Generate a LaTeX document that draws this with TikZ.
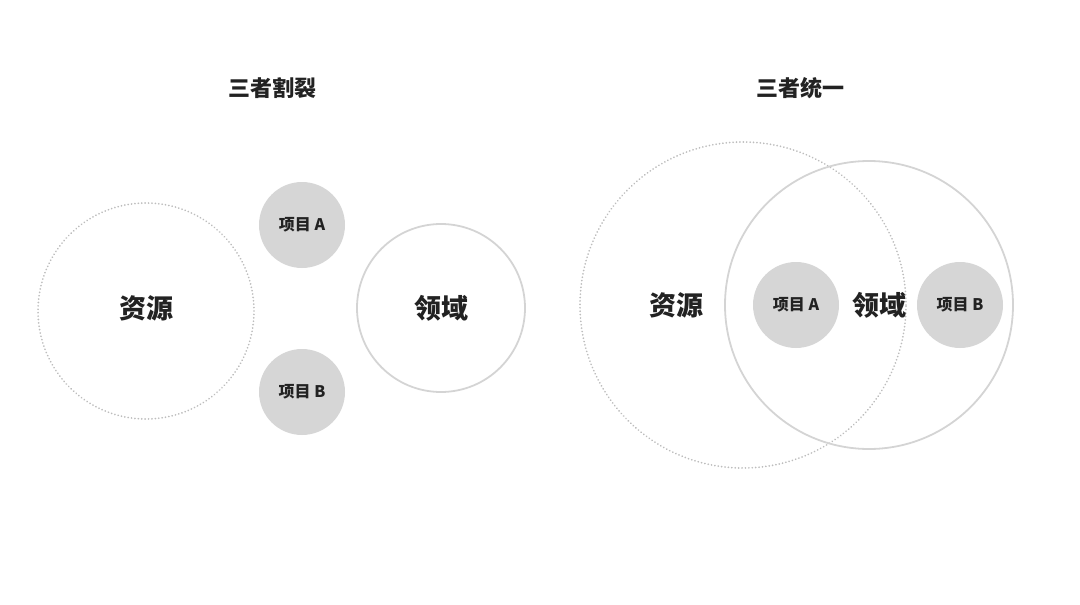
\documentclass[tikz,border=0pt]{standalone}
\usepackage{fontspec}
\usepackage{xcolor}
\usepackage{tikz}
\newfontfamily\cjk{Noto Sans CJK SC}
\definecolor{ringgray}{HTML}{D4D4D4}
\definecolor{dotgray}{HTML}{BDBDBD}
\definecolor{projgray}{HTML}{D6D6D6}
\definecolor{inkgray}{HTML}{222222}

\begin{document}
\begin{tikzpicture}[x=1pt,y=-1pt,
  dotring/.style={circle,draw=dotgray,line width=1.9pt,dash pattern=on 0.01pt off 3.4pt,line cap=round,inner sep=0pt},
  ring/.style={circle,draw=ringgray,line width=1.8pt,inner sep=0pt},
  proj/.style={circle,fill=projgray,minimum size=86pt,inner sep=0pt,text=inkgray,font=\cjk\bfseries\fontsize{16}{16}\selectfont},
  big/.style={text=inkgray,font=\cjk\bfseries\fontsize{27}{27}\selectfont},
  title/.style={text=inkgray,font=\cjk\bfseries\fontsize{22}{22}\selectfont}]
  \useasboundingbox (0,0) rectangle (1080,605);
  % left: split apart
  \node[title] (tsplit) at (272,88) {三者割裂};
  \node[dotring,minimum size=216pt] (resL) at (146,311) {};
  \node[big] (resLtxt) at (146,308) {资源};
  \node[proj] (projAL) at (302,225) {项目 A};
  \node[proj] (projBL) at (302,392) {项目 B};
  \node[ring,minimum size=168pt,big] (domL) at (441,308) {领域};
  % right: unified
  \node[title] (tunify) at (800,88) {三者统一};
  \node[dotring,minimum size=326pt] (resR) at (743,305) {};
  \node[ring,minimum size=288pt] (domR) at (869,305) {};
  \node[big] (resRtxt) at (676,305) {资源};
  \node[big] (domRtxt) at (879,305) {领域};
  \node[proj] (projAR) at (796,305) {项目 A};
  \node[proj] (projBR) at (960,305) {项目 B};
\end{tikzpicture}
\end{document}
